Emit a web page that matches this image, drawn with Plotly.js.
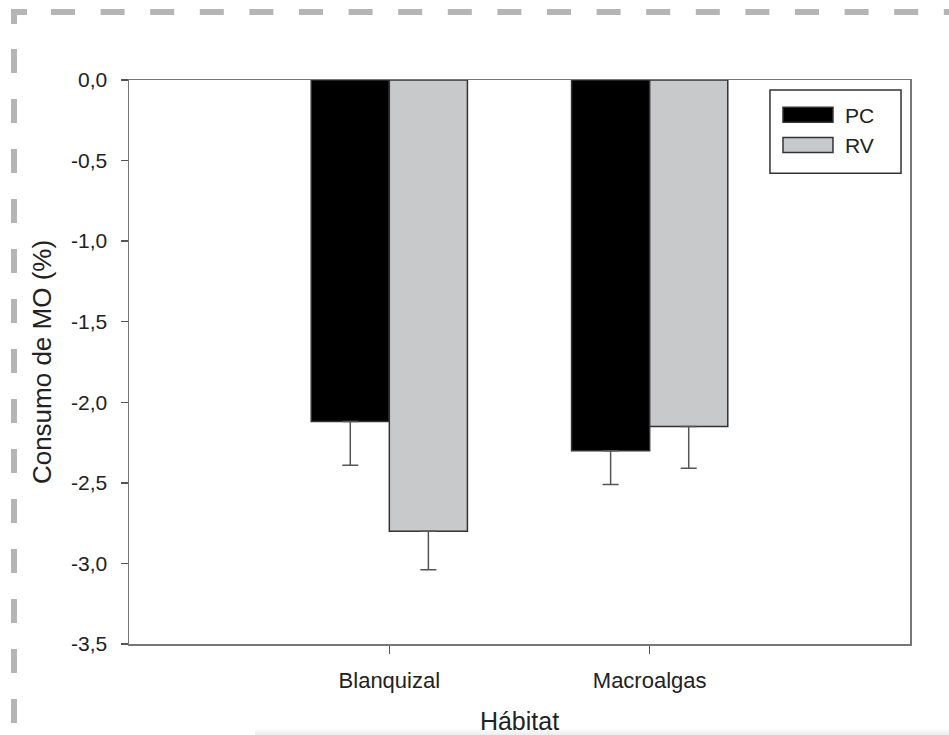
<!DOCTYPE html>
<html>
<head>
<meta charset="utf-8">
<script src="https://cdn.plot.ly/plotly-3.0.1.min.js"></script>
<style>
  html, body { margin: 0; padding: 0; background: #ffffff; }
  #wrap { position: relative; width: 949px; height: 735px; overflow: hidden; }
  #frame { position: absolute; left: 0; top: 0; }
  #chart { position: absolute; left: 0; top: 0; width: 949px; height: 735px; }
  #shade { position: absolute; left: 255px; top: 728px; width: 694px; height: 7px;
           background: linear-gradient(to bottom, rgba(0,0,0,0), rgba(0,0,0,0.07)); }
</style>
</head>
<body>
<div id="wrap">
  <svg id="frame" width="949" height="735"></svg>
  <div id="chart"></div>
  <div id="shade"></div>
</div>
<script>
// Habitats and the two treatments
const habitats = ['Blanquizal', 'Macroalgas'];
const seriesNames = ['PC', 'RV'];

// Mean organic matter consumption (%) per habitat
const pcMeans = [-2.12, -2.30];
const rvMeans = [-2.80, -2.15];

// Standard errors (drawn below each bar)
const pcErrors = [0.27, 0.21];
const rvErrors = [0.24, 0.26];

// Y-axis ticks and their labels (comma decimals, plain hyphen)
const yTicks = [0, -0.5, -1.0, -1.5, -2.0, -2.5, -3.0, -3.5];
const yTickText = yTicks.map(v => v.toFixed(1).replace('.', ','));

// Dashed gray border along the top and left of the figure
(function drawFrame() {
  const svg = document.getElementById('frame');
  const ns = 'http://www.w3.org/2000/svg';
  const col = '#b5b5b5';
  function line(x1, y1, x2, y2, dash, w) {
    const l = document.createElementNS(ns, 'line');
    l.setAttribute('x1', x1); l.setAttribute('y1', y1);
    l.setAttribute('x2', x2); l.setAttribute('y2', y2);
    l.setAttribute('stroke', col); l.setAttribute('stroke-width', w);
    if (dash) l.setAttribute('stroke-dasharray', dash);
    svg.appendChild(l);
  }
  // corner
  line(11, 12, 27, 12, null, 6);
  line(14, 9, 14, 24, null, 6);
  // top edge
  line(51, 12, 960, 12, '24 25.6', 6);
  // left edge
  line(14, 49, 14, 740, '24 26', 6);
})();

const fontFamily = '"Liberation Sans", Arial, Helvetica, sans-serif';
const textColor = '#222222';

const errStyle = { type: 'data', symmetric: false, color: '#555555', thickness: 1.5, width: 8 };

const traces = [
  {
    type: 'bar', name: seriesNames[0], x: habitats, y: pcMeans,
    marker: { color: '#000000', line: { color: '#333333', width: 1.5 } },
    error_y: Object.assign({ array: pcMeans.map(() => 0), arrayminus: pcErrors }, errStyle),
    hoverinfo: 'x+y+name'
  },
  {
    type: 'bar', name: seriesNames[1], x: habitats, y: rvMeans,
    marker: { color: '#c8c9cb', line: { color: '#333333', width: 1.5 } },
    error_y: Object.assign({ array: rvMeans.map(() => 0), arrayminus: rvErrors }, errStyle),
    hoverinfo: 'x+y+name'
  }
];

const layout = {
  width: 949, height: 735,
  margin: { l: 129, r: 39, t: 80, b: 91, pad: 0 },
  paper_bgcolor: 'rgba(0,0,0,0)',
  plot_bgcolor: '#ffffff',
  separators: ',.',
  font: { family: fontFamily, color: textColor, size: 21 },
  barmode: 'group',
  bargap: 0.4,
  bargroupgap: 0,
  showlegend: true,
  legend: {
    x: 0.822, y: 0.974, xanchor: 'left', yanchor: 'top',
    bgcolor: 'rgba(0,0,0,0)', borderwidth: 0,
    itemwidth: 64,
    font: { family: fontFamily, size: 21, color: textColor },
    traceorder: 'normal'
  },
  xaxis: {
    type: 'category',
    range: [-1, 2],
    showline: true, mirror: true, linecolor: '#777777', linewidth: 1.5,
    ticks: 'outside', ticklen: 8, tickwidth: 1.5, tickcolor: '#555555',
    tickfont: { family: fontFamily, size: 22, color: textColor },
    ticklabelstandoff: 8,
    showgrid: false, zeroline: false,
    title: { text: 'Hábitat', font: { family: fontFamily, size: 25, color: textColor }, standoff: 22 }
  },
  yaxis: {
    range: [-3.5, 0],
    tickmode: 'array',
    tickvals: yTicks,
    ticktext: yTickText,
    showline: true, mirror: true, linecolor: '#777777', linewidth: 1.5,
    ticks: 'outside', ticklen: 7, tickwidth: 1.5, tickcolor: '#555555',
    tickfont: { family: fontFamily, size: 21, color: textColor },
    ticklabelstandoff: 9,
    showgrid: false, zeroline: false,
    title: { text: 'Consumo de MO (%)', font: { family: fontFamily, size: 26, color: textColor }, standoff: 12 }
  },
  shapes: [
    // legend box
    { type: 'rect', xref: 'paper', yref: 'paper',
      x0: 0.8207, x1: 0.9885, y0: 0.8346, y1: 0.9823,
      line: { color: '#333333', width: 1.5 }, fillcolor: 'rgba(0,0,0,0)', layer: 'above' }
  ]
};

// wide rectangular legend swatches
function widenSwatches() {
  document.querySelectorAll('#chart .legend .legendpoints path').forEach(function (p) {
    p.setAttribute('d', 'M25,7.5H-25V-7.5H25Z');
  });
}

const gd = document.getElementById('chart');
Plotly.newPlot(gd, traces, layout, { staticPlot: true, displayModeBar: false }).then(function () {
  widenSwatches();
  gd.on('plotly_afterplot', widenSwatches);
  setTimeout(widenSwatches, 50);
  setTimeout(widenSwatches, 300);
});
</script>
</body>
</html>
